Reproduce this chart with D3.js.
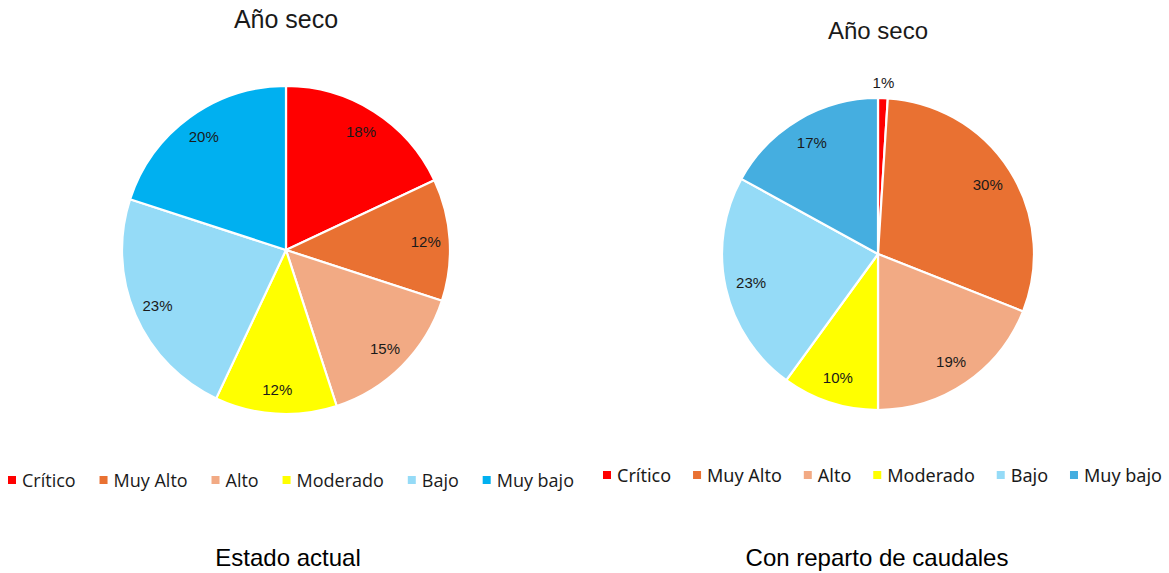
<!DOCTYPE html>
<html>
<head>
<meta charset="utf-8">
<script src="https://cdn.jsdelivr.net/npm/d3@7"></script>
<style>
  html, body { margin: 0; padding: 0; background: #fff; }
  svg { display: block; }
</style>
</head>
<body>
<svg id="chart" width="1169" height="573"></svg>
<script>
// Risk categories shared by both pies
const categories = ["Crítico", "Muy Alto", "Alto", "Moderado", "Bajo", "Muy bajo"];

// Dry-year shares (%) — current state
const actualValues = [18, 12, 15, 12, 23, 20];
// Dry-year shares (%) — with flow allocation
const repartoValues = [1, 30, 19, 10, 23, 17];

const titles = ["Año seco", "Año seco"];
const captions = ["Estado actual", "Con reparto de caudales"];

const actualColors = ["#FF0000", "#E97132", "#F2AA84", "#FFFF00", "#95DBF7", "#00B0F0"];
const repartoColors = ["#FF0000", "#E97132", "#F2AA84", "#FFFF00", "#95DBF7", "#45AEE0"];

const svg = d3.select("#chart");

const panels = [
  { values: actualValues, colors: actualColors, cx: 286, cy: 250, r: 164, labelR: 140,
    title: titles[0], titleY: 28, titleSize: 25, legendY: 480, legendX0: 8, legendX1: 574,
    caption: captions[0], captionX: 288, legendFont: "'Open Sans', sans-serif" },
  { values: repartoValues, colors: repartoColors, cx: 878, cy: 254, r: 156, labelR: 130,
    title: titles[1], titleY: 39, titleSize: 24, legendY: 475, legendX0: 603, legendX1: 1162,
    caption: captions[1], captionX: 877, legendFont: "'Noto Sans', sans-serif" }
];

panels.forEach(p => {
  const g = svg.append("g");
  const color = d3.scaleOrdinal().domain(categories).range(p.colors);
  const pie = d3.pie().sort(null).value(d => d.v);
  const arcs = pie(categories.map((c, i) => ({ c, v: p.values[i] })));
  const arc = d3.arc().innerRadius(0).outerRadius(p.r);

  const pg = g.append("g").attr("transform", `translate(${p.cx},${p.cy})`);
  pg.selectAll("path").data(arcs).join("path")
    .attr("d", arc)
    .attr("fill", d => color(d.data.c))
    .attr("stroke", "#fff")
    .attr("stroke-width", 2.2)
    .attr("stroke-linejoin", "round");

  pg.selectAll("text.val").data(arcs).join("text")
    .attr("class", "val")
    .attr("transform", d => {
      const small = d.data.v < 3;
      const rr = small ? p.r + 16 : p.labelR;
      const a = (d.startAngle + d.endAngle) / 2;
      return `translate(${Math.sin(a) * rr},${-Math.cos(a) * rr})`;
    })
    .attr("text-anchor", "middle")
    .attr("dominant-baseline", "central")
    .attr("font-family", "'Liberation Sans', Arial, sans-serif")
    .attr("font-size", 15)
    .attr("fill", "#1a1a1a")
    .text(d => d.data.v + "%");

  g.append("text")
    .attr("x", p.cx).attr("y", p.titleY)
    .attr("text-anchor", "middle")
    .attr("font-family", "'Liberation Sans', Arial, sans-serif")
    .attr("font-size", p.titleSize)
    .attr("fill", "#1a1a1a")
    .text(p.title);

  // Legend: measure items, then spread them across the row
  const lg = g.append("g");
  const items = lg.selectAll("g").data(categories).join("g");
  items.append("rect")
    .attr("width", 8).attr("height", 8)
    .attr("y", -4)
    .attr("fill", d => color(d));
  items.append("text")
    .attr("x", 14)
    .attr("dominant-baseline", "central")
    .attr("font-family", p.legendFont)
    .attr("font-size", 18)
    .attr("fill", "#1a1a1a")
    .text(d => d);
  const widths = [];
  items.each(function () {
    widths.push(14 + this.querySelector("text").getComputedTextLength());
  });
  const gap = (p.legendX1 - p.legendX0 - d3.sum(widths)) / (widths.length - 1);
  let x = 0;
  items.attr("transform", (d, i) => {
    const t = `translate(${x},0)`;
    x += widths[i] + gap;
    return t;
  });
  lg.attr("transform", `translate(${p.legendX0},${p.legendY})`);

  g.append("text")
    .attr("x", p.captionX).attr("y", 566)
    .attr("text-anchor", "middle")
    .attr("font-family", "'Liberation Sans', Arial, sans-serif")
    .attr("font-size", 24)
    .attr("fill", "#000")
    .text(p.caption);
});
</script>
</body>
</html>
